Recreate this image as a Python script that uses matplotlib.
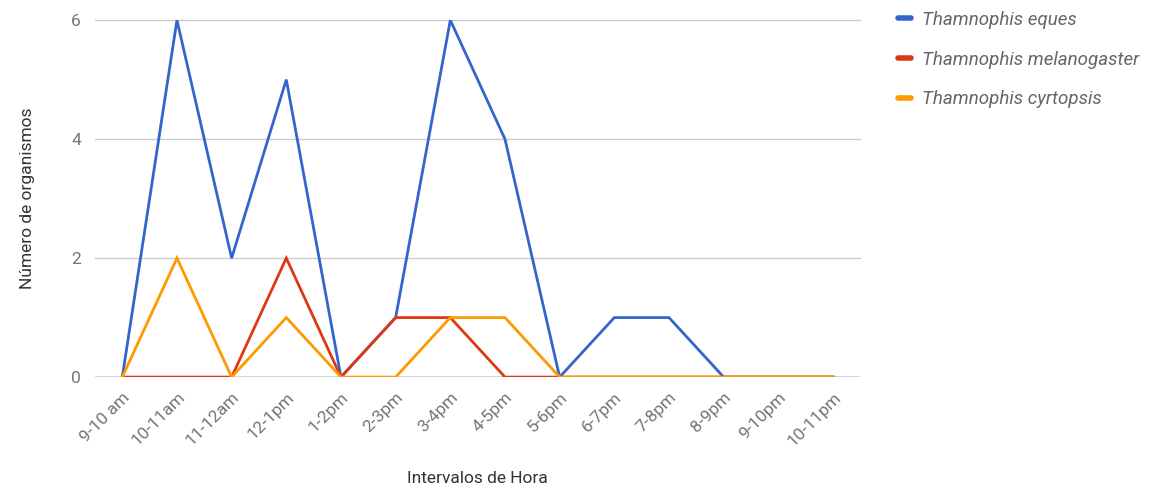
import matplotlib
matplotlib.use("Agg")
import matplotlib.pyplot as plt
from matplotlib.lines import Line2D

# --------------------------
# DATA
# --------------------------
intervals = ["9-10 am", "10-11am", "11-12am", "12-1pm", "1-2pm", "2-3pm", "3-4pm",
             "4-5pm", "5-6pm", "6-7pm", "7-8pm", "8-9pm", "9-10pm", "10-11pm"]
eques = [0, 6, 2, 5, 0, 1, 6, 4, 0, 1, 1, 0, 0, 0]
melanogaster = [0, 0, 0, 2, 0, 1, 1, 0, 0, 0, 0, 0, 0, 0]
cyrtopsis = [0, 2, 0, 1, 0, 0, 1, 1, 0, 0, 0, 0, 0, 0]

series_names = ["Thamnophis eques", "Thamnophis melanogaster", "Thamnophis cyrtopsis"]
series_colors = ["#3366CC", "#DC3912", "#FF9900"]
y_ticks = [0, 2, 4, 6]

plt.rcParams['font.family'] = ['Roboto', 'DejaVu Sans']

# --------------------------
# FIGURE
# --------------------------
fig = plt.figure(figsize=(11.65, 4.91), dpi=100)
ax = fig.add_axes([0.0815, 0.232, 0.657, 0.727])

x = list(range(len(intervals)))
for vals, color, z in zip([eques, melanogaster, cyrtopsis], series_colors, [3, 4, 5]):
    ax.plot(x, vals, color=color, linewidth=2, zorder=z, solid_joinstyle='miter')

ax.set_xlim(-0.5, len(intervals) - 0.5)
ax.set_ylim(0, 6)
ax.set_yticks(y_ticks)
ax.set_xticks(x)
ax.set_xticklabels(intervals, rotation=45, ha='right', rotation_mode='anchor')

for t in y_ticks[1:]:
    ax.axhline(t, color='#cccccc', linewidth=1, zorder=1, clip_on=False)
ax.axhline(0, color='#333333', linewidth=1, zorder=2)

for s in ax.spines.values():
    s.set_visible(False)
ax.tick_params(axis='both', length=0, labelsize=12.5, colors='#757575')
ax.tick_params(axis='y', pad=10)
ax.tick_params(axis='x', pad=9)

ax.set_xlabel("Intervalos de Hora", fontsize=12.5, color='#333333', labelpad=16)
ax.set_ylabel("Número de organismos", fontsize=12.5, color='#333333', labelpad=26)

# Legend
handles = [Line2D([0], [0], color=c, linewidth=4, solid_capstyle='round') for c in series_colors]
leg = fig.legend(handles, series_names, loc='upper left', bbox_to_anchor=(0.756, 1.012),
                 frameon=False, handlelength=0.7, handletextpad=0.6,
                 labelspacing=1.15, prop={'style': 'italic', 'size': 13.5})
for txt in leg.get_texts():
    txt.set_color('#666666')

fig.savefig("out.png", dpi=100)
